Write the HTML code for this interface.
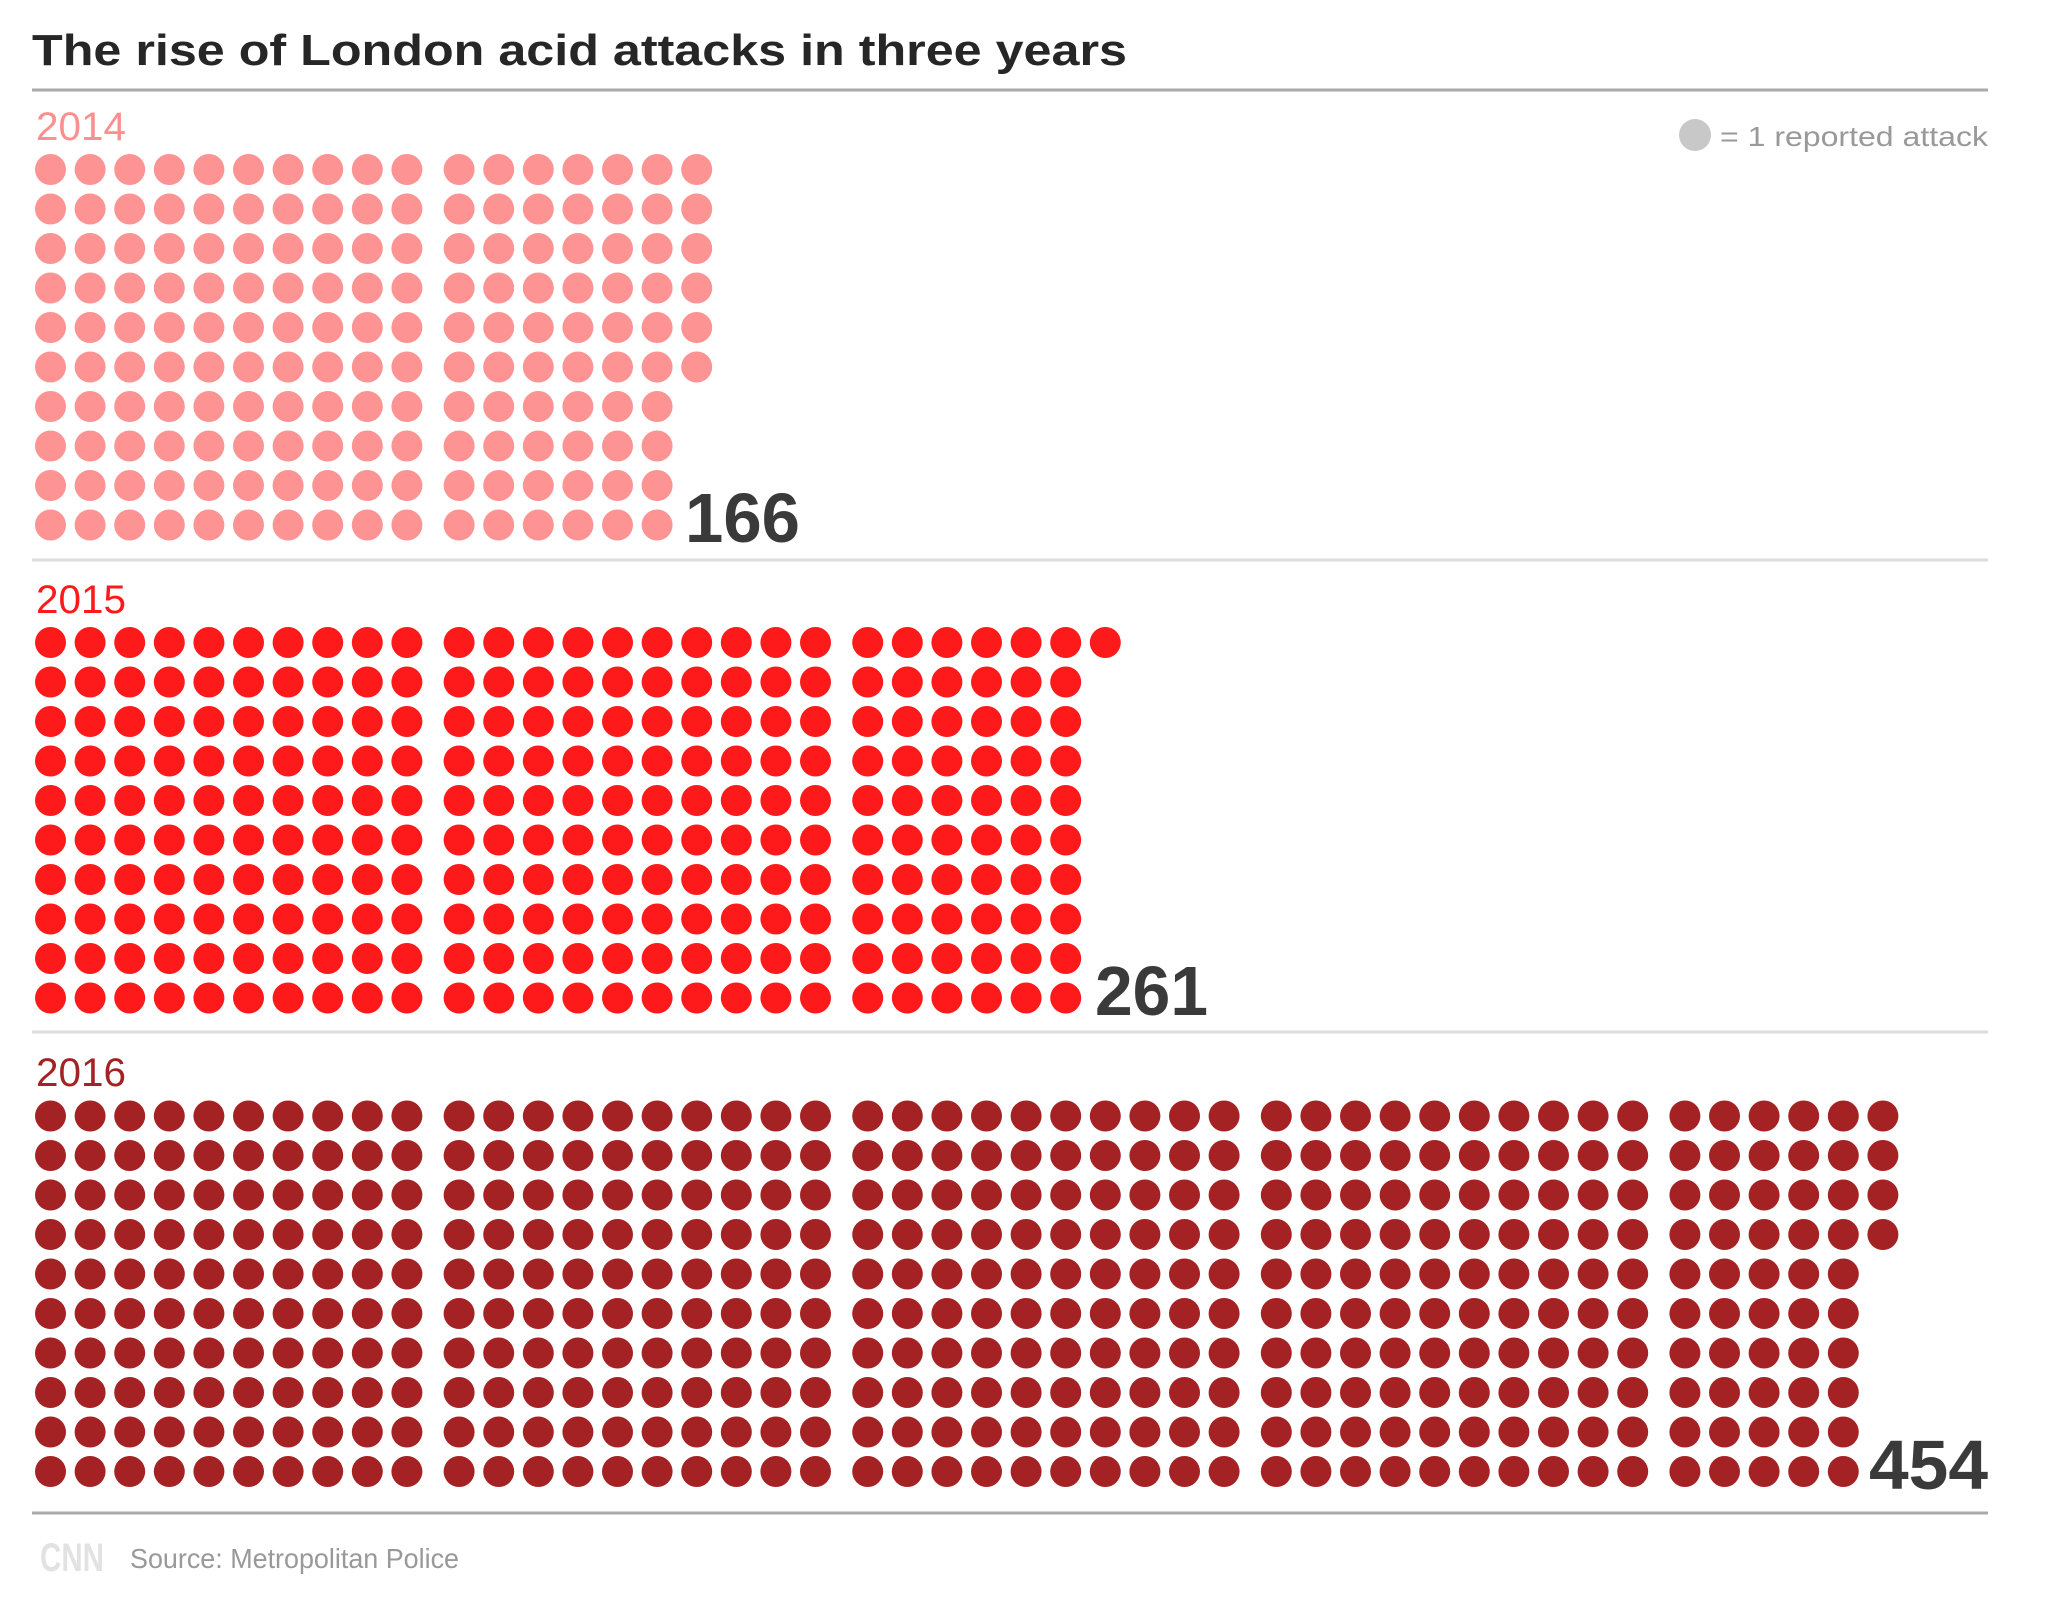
<!DOCTYPE html>
<html><head><meta charset="utf-8"><style>
html,body{margin:0;padding:0;background:#fff;}
svg{display:block;}
text{font-family:"Liberation Sans",Arial,sans-serif;}
</style></head><body>
<svg id="s" width="2053" height="1601" viewBox="0 0 2053 1601" xmlns="http://www.w3.org/2000/svg">
<rect width="2053" height="1601" fill="#fff"/>
<text x="32" y="65" font-size="44" font-weight="bold" fill="#262626" textLength="1095" lengthAdjust="spacingAndGlyphs">The rise of London acid attacks in three years</text>
<line x1="32" y1="90" x2="1988" y2="90" stroke="#aaa" stroke-width="3"/>
<circle cx="1695" cy="135" r="16" fill="#c8c8c8"/>
<text x="1720" y="146" font-size="28" fill="#999" textLength="268" lengthAdjust="spacingAndGlyphs">= 1 reported attack</text>
<text x="36" y="140" font-size="40" fill="#fc8f8f" textLength="90" lengthAdjust="spacingAndGlyphs">2014</text>
<text x="36" y="613" font-size="40" fill="#fe1a1a" textLength="90" lengthAdjust="spacingAndGlyphs">2015</text>
<text x="36" y="1086" font-size="40" fill="#a52224" textLength="90" lengthAdjust="spacingAndGlyphs">2016</text>
<line x1="32" y1="560" x2="1988" y2="560" stroke="#ddd" stroke-width="3"/>
<line x1="32" y1="1032" x2="1988" y2="1032" stroke="#ddd" stroke-width="3"/>
<line x1="32" y1="1513" x2="1988" y2="1513" stroke="#aaa" stroke-width="3"/>
<g id="dots"></g>
<text x="685" y="542" font-size="70" font-weight="bold" fill="#3a3a3a" textLength="115" lengthAdjust="spacingAndGlyphs">166</text>
<text x="1095" y="1015" font-size="70" font-weight="bold" fill="#3a3a3a" textLength="113" lengthAdjust="spacingAndGlyphs">261</text>
<text x="1869" y="1489" font-size="70" font-weight="bold" fill="#3a3a3a" textLength="119" lengthAdjust="spacingAndGlyphs">454</text>
<text x="40" y="1571" font-size="40" font-weight="bold" fill="#e2e2e2" textLength="64" lengthAdjust="spacingAndGlyphs">CNN</text>
<text x="130" y="1568" font-size="28" fill="#999" textLength="329" lengthAdjust="spacingAndGlyphs">Source: Metropolitan Police</text>
</svg>
<script>
(function(){
var g=document.getElementById('dots');var ns='http://www.w3.org/2000/svg';
var sets=[[166,169.5,'#fd9393'],[261,642.5,'#fe1a1a'],[454,1116,'#a52224']];
var p=39.6,gap=12.6,x0=50.5,r=15.5;
sets.forEach(function(s){
 for(var i=0;i<s[0];i++){
  var col=Math.floor(i/10),row=i%10;
  var cx=x0+col*p+Math.floor(col/10)*gap, cy=s[1]+row*39.5;
  var c=document.createElementNS(ns,'circle');
  c.setAttribute('cx',cx.toFixed(1));c.setAttribute('cy',cy.toFixed(1));c.setAttribute('r',r);c.setAttribute('fill',s[2]);
  g.appendChild(c);
 }
});
})();
</script>
</body></html>
